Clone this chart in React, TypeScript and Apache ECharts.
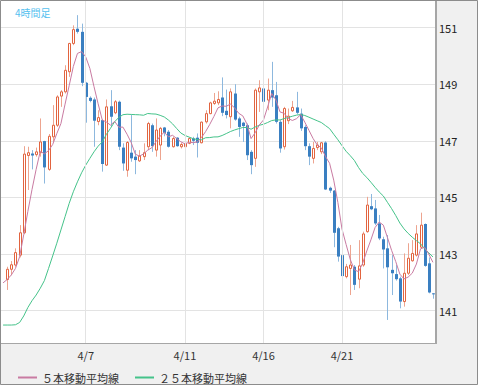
import React, { useEffect, useRef } from 'react';
import * as echarts from 'echarts';

const FONT = "'Noto Sans CJK JP', 'Noto Sans', sans-serif";

// trading days and number of 4h candles in each (first slot is an empty leading slot)
const dayCandles: [string, number][] = [
  ['4/1', 1], ['4/2', 6], ['4/3', 6], ['4/4', 6], ['4/5', 1],
  ['4/7', 6], ['4/8', 6], ['4/9', 6], ['4/10', 6], ['4/11', 6], ['4/12', 1],
  ['4/14', 6], ['4/15', 6], ['4/16', 6], ['4/17', 6], ['4/18', 6], ['4/19', 1],
  ['4/21', 6], ['4/22', 6], ['4/23', 6], ['4/24', 5],
];
const tickLabels = ['4/7', '4/11', '4/16', '4/21'];
const yTicks = [141, 143, 145, 147, 149, 151];

const opens = [
  142.10, 142.46, 142.61, 142.96, 143.75, 146.48, 146.55, 146.51, 146.58, 146.99,
  145.99, 147.14, 147.55, 148.58, 148.73, 149.44, 150.44, 150.96, 150.85, 149.05,
  148.52, 148.46, 147.68, 147.73, 146.14, 148.22, 147.99, 148.38, 146.76, 145.96,
  146.58, 146.44, 146.29, 146.44, 146.79, 147.55, 146.67, 146.85, 147.47, 147.32,
  146.79, 147.11, 146.79, 146.79, 146.91, 147.08, 147.11, 146.93, 147.67, 147.96,
  148.32, 148.34, 148.53, 148.06, 147.85, 148.67, 147.79, 147.64, 147.55, 146.61,
  146.38, 148.73, 148.85, 148.44, 148.79, 148.61, 147.67, 146.79, 147.71, 148.06,
  148.18, 147.96, 147.49, 146.81, 146.38, 146.76, 146.61, 146.94, 145.34, 145.24,
  143.91, 142.96, 142.20, 142.49, 142.55, 142.11, 142.61, 143.79, 144.69, 144.61,
  144.08, 143.52, 143.20, 142.44, 142.29, 142.14, 141.32, 142.32, 142.76, 142.96,
  143.24, 144.06, 142.67, 141.61,
];
const highs = [
  142.55, 142.75, 143.20, 144.02, 146.81, 146.79, 146.67, 146.76, 147.79, 147.00,
  147.24, 148.26, 148.61, 148.79, 149.67, 150.46, 151.08, 151.44, 151.14, 149.08,
  148.57, 148.53, 148.08, 147.75, 148.46, 148.79, 148.44, 148.42, 146.91, 146.99,
  147.91, 146.67, 146.67, 146.91, 147.67, 147.61, 147.79, 147.49, 147.49, 147.38,
  147.14, 147.13, 146.93, 146.96, 147.12, 147.14, 147.26, 147.68, 148.08, 148.38,
  148.69, 148.75, 149.24, 148.81, 148.85, 149.00, 147.85, 147.67, 147.61, 146.67,
  148.85, 149.14, 149.20, 149.20, 149.79, 149.08, 147.73, 148.20, 148.14, 148.41,
  148.73, 148.14, 147.55, 146.91, 146.96, 146.96, 146.96, 146.99, 145.38, 145.26,
  143.96, 143.02, 142.65, 143.32, 142.61, 143.49, 143.79, 145.02, 145.12, 144.91,
  144.38, 143.61, 143.67, 142.96, 142.61, 142.20, 143.02, 143.38, 143.49, 144.02,
  144.46, 144.08, 142.88, 141.62,
];
const lows = [
  141.73, 142.25, 142.55, 142.88, 143.70, 145.26, 145.99, 146.44, 146.44, 145.49,
  145.94, 146.96, 147.49, 148.20, 148.67, 149.26, 150.38, 150.79, 148.93, 147.64,
  148.36, 146.79, 147.55, 145.91, 146.11, 147.49, 147.94, 146.67, 145.94, 145.73,
  146.26, 145.82, 146.25, 146.32, 146.67, 146.61, 146.44, 146.32, 147.16, 146.76,
  146.76, 146.79, 146.73, 146.61, 146.88, 146.85, 146.41, 146.91, 147.61, 147.94,
  148.27, 148.26, 147.87, 147.79, 147.44, 147.71, 147.14, 146.96, 146.32, 145.82,
  146.08, 148.02, 148.32, 148.08, 148.20, 147.61, 146.58, 146.69, 147.59, 148.02,
  147.94, 147.35, 146.67, 146.14, 146.20, 146.67, 146.53, 145.26, 145.16, 143.24,
  142.73, 141.99, 142.14, 141.55, 141.73, 141.79, 142.55, 143.75, 144.55, 144.02,
  143.49, 142.49, 140.67, 141.55, 142.06, 141.08, 141.14, 142.26, 142.73, 142.91,
  143.20, 142.55, 141.61, 141.42,
];
const closes = [
  142.46, 142.62, 143.05, 143.75, 146.53, 146.58, 146.48, 146.61, 146.96, 146.06,
  147.16, 147.55, 148.55, 148.73, 149.49, 150.44, 150.93, 150.85, 149.05, 148.55,
  148.41, 147.71, 147.82, 146.18, 148.20, 147.85, 148.38, 146.79, 146.20, 146.94,
  146.38, 146.32, 146.46, 146.58, 147.61, 146.81, 147.38, 147.44, 147.28, 146.79,
  147.08, 146.81, 146.87, 146.91, 147.08, 147.00, 146.93, 147.66, 147.96, 148.34,
  148.40, 148.46, 147.99, 147.91, 148.73, 147.75, 147.49, 147.52, 146.49, 146.14,
  148.79, 148.87, 148.38, 148.79, 148.53, 147.67, 146.73, 148.14, 147.87, 148.18,
  147.99, 147.44, 146.81, 146.44, 146.73, 146.85, 146.93, 145.28, 145.24, 143.75,
  142.91, 142.22, 142.55, 142.61, 141.91, 142.58, 143.71, 144.73, 144.58, 144.08,
  143.55, 143.16, 142.53, 142.32, 142.11, 141.32, 142.32, 142.85, 143.02, 143.71,
  144.02, 142.58, 141.64, 141.58,
];

const ma5Head = [141.98, 142.10, 142.26, 142.49, 142.90];
const ma25Head = [
  140.49, 140.49, 140.49, 140.50, 140.58, 140.81, 141.11, 141.35, 141.55, 141.79,
  142.06, 142.49, 142.93, 143.38, 143.85, 144.32, 144.79, 145.20, 145.55, 145.87,
  146.14, 146.38, 146.61, 146.81, 146.96,
];

const UP = '#e2643f';
const UP_WICK = '#eda48f';
const DOWN = '#3a7fc1';
const DOWN_WICK = '#8db8de';
const MA5_COLOR = '#c97ba2';
const MA25_COLOR = '#45c38a';
const GRID_COLOR = '#e3e3e3';

// the chart canvas starts OFF px above the page so that the value axis can run 139..153
const OFF = 29;
const PAGE_W = 478;
const PAGE_H = 385;

function buildCategories(): string[] {
  const wk = ['02', '06', '10', '14', '18', '22'];
  const out: string[] = [];
  dayCandles.forEach(([d, n]) => {
    let hrs: string[];
    if (n === 6) hrs = wk;
    else if (n === 1) hrs = d === '4/1' ? ['22'] : ['02'];
    else hrs = wk.slice(0, n);
    hrs.forEach((h) => out.push(`${d} ${h}:00`));
  });
  return out;
}

function movingAverage(period: number, head: number[]): (number | string)[] {
  const total = closes.length + 1;
  const out: (number | string)[] = [];
  for (let k = 0; k < total; k++) {
    if (k < head.length) {
      out.push(head[k]);
    } else {
      const j = k - 1;
      let s = 0;
      for (let m = j - period + 1; m <= j; m++) s += closes[m];
      out.push(+(s / period).toFixed(3));
    }
  }
  return out;
}

export default function App() {
  const ref = useRef<HTMLDivElement>(null);

  useEffect(() => {
    if (!ref.current) return;
    const chart = echarts.init(ref.current, undefined, { renderer: 'svg' });
    const categories = buildCategories();
    const tickSlots = tickLabels.map((t) => categories.findIndex((c) => c.startsWith(t + ' ')));
    const tickSet = new Set(tickSlots);
    const candleData = opens.map((o, i) => [i + 1, o, closes[i], lows[i], highs[i]]);
    const ma5 = movingAverage(5, ma5Head);
    const ma25 = movingAverage(25, ma25Head);

    const yMin = 139;
    const yMax = 153;

    const option: any = {
      animation: false,
      backgroundColor: '#ffffff',
      textStyle: { fontFamily: FONT },
      title: {
        text: '4時間足',
        left: 10,
        top: OFF + 2,
        z: 80,
        textStyle: { fontSize: 10, color: '#55c1ef', fontWeight: 'normal', fontFamily: FONT },
      },
      legend: {
        data: ['５本移動平均線', '２５本移動平均線'],
        left: 13,
        top: OFF + 367,
        z: 80,
        icon: 'rect',
        itemWidth: 19,
        itemHeight: 2,
        itemGap: 16,
        selectedMode: false,
        textStyle: { fontSize: 11, color: '#333333', fontFamily: FONT },
      },
      grid: { left: 1, right: 43, top: 0, height: 396.2 },
      xAxis: [
        {
          type: 'category',
          data: categories,
          boundaryGap: true,
          axisLine: { show: false },
          axisTick: { show: false },
          axisLabel: { show: false },
          splitLine: { show: false },
        },
        {
          type: 'category',
          data: categories,
          boundaryGap: true,
          position: 'bottom',
          offset: -24,
          z: 80,
          axisLine: { show: false },
          axisTick: { show: false },
          splitLine: { show: false },
          axisLabel: {
            interval: (idx: number) => tickSet.has(idx),
            formatter: (v: string) => v.split(' ')[0],
            margin: 6,
            color: '#333333',
            fontSize: 11,
            fontFamily: FONT,
          },
        },
      ],
      yAxis: [
        {
          type: 'value',
          min: yMin,
          max: yMax,
          interval: 2,
          position: 'right',
          axisLine: { show: false },
          axisTick: { show: false },
          axisLabel: { show: false },
          splitLine: { show: true, lineStyle: { color: GRID_COLOR, width: 1 } },
        },
        {
          type: 'value',
          min: yMin,
          max: yMax,
          interval: 2,
          position: 'right',
          z: 80,
          axisLine: { show: false },
          axisTick: { show: false },
          splitLine: { show: false },
          axisLabel: {
            margin: 4,
            color: '#222222',
            fontSize: 11,
            fontFamily: FONT,
            formatter: (v: number) => (yTicks.indexOf(v) >= 0 ? String(v) : ''),
          },
        },
      ],
      graphic: {
        elements: [
          { type: 'rect', z: 50, silent: true, shape: { x: 0, y: 0, width: PAGE_W, height: OFF }, style: { fill: '#ffffff' } },
          { type: 'rect', z: 50, silent: true, shape: { x: 0, y: OFF + 343, width: PAGE_W, height: 42 }, style: { fill: '#f0f0f0' } },
          { type: 'rect', z: 50, silent: true, shape: { x: 436, y: OFF, width: 42, height: PAGE_H }, style: { fill: '#f0f0f0' } },
          { type: 'rect', z: 51, silent: true, shape: { x: 0, y: OFF + 343, width: 437, height: 1 }, style: { fill: '#a6a6a6' } },
          { type: 'rect', z: 51, silent: true, shape: { x: 435, y: OFF, width: 2, height: 344 }, style: { fill: '#a6a6a6' } },
          { type: 'rect', z: 52, silent: true, shape: { x: 0.5, y: OFF + 0.5, width: PAGE_W - 1, height: PAGE_H - 1 }, style: { fill: 'none', stroke: '#8c8c8c', lineWidth: 1 } },
        ],
      },
      series: [
        {
          name: 'vgrid',
          type: 'line',
          data: [],
          z: 1,
          silent: true,
          markLine: {
            silent: true,
            symbol: ['none', 'none'],
            label: { show: false },
            emphasis: { disabled: true },
            lineStyle: { color: GRID_COLOR, type: 'solid', width: 1 },
            data: tickSlots.map((s) => ({ xAxis: categories[s] })),
          },
        },
        {
          name: '4時間足',
          type: 'custom',
          z: 2,
          silent: true,
          data: candleData,
          encode: { x: 0, y: [1, 2, 3, 4] },
          renderItem: (params: any, api: any) => {
            const x = api.value(0);
            const o = api.value(1);
            const c = api.value(2);
            const l = api.value(3);
            const h = api.value(4);
            const pO = api.coord([x, o]);
            const pC = api.coord([x, c]);
            const pL = api.coord([x, l]);
            const pH = api.coord([x, h]);
            const cx = Math.round(pO[0]) + 0.5;
            const up = c >= o;
            const yTop = Math.min(pO[1], pC[1]);
            const yBot = Math.max(pO[1], pC[1]);
            const bodyH = Math.max(yBot - yTop, 1);
            const body = up
              ? { type: 'rect', shape: { x: cx - 1, y: yTop, width: 2, height: bodyH }, style: { fill: '#ffffff', stroke: UP, lineWidth: 1 } }
              : { type: 'rect', shape: { x: cx - 1.5, y: yTop, width: 3, height: bodyH }, style: { fill: DOWN } };
            return {
              type: 'group',
              children: [
                { type: 'line', shape: { x1: cx, y1: pH[1], x2: cx, y2: pL[1] }, style: { stroke: up ? UP_WICK : DOWN_WICK, lineWidth: 1 } },
                body,
              ],
            };
          },
        },
        {
          name: '２５本移動平均線',
          type: 'line',
          data: ma25,
          z: 3,
          symbol: 'none',
          showSymbol: false,
          silent: true,
          color: MA25_COLOR,
          lineStyle: { color: MA25_COLOR, width: 1 },
        },
        {
          name: '５本移動平均線',
          type: 'line',
          data: ma5,
          z: 4,
          symbol: 'none',
          showSymbol: false,
          silent: true,
          color: MA5_COLOR,
          lineStyle: { color: MA5_COLOR, width: 1 },
        },
      ],
    };

    chart.setOption(option);
    return () => {
      chart.dispose();
    };
  }, []);

  return (
    <div
      ref={ref}
      style={{ position: 'absolute', left: 0, top: -OFF, width: PAGE_W, height: PAGE_H + OFF }}
    />
  );
}
